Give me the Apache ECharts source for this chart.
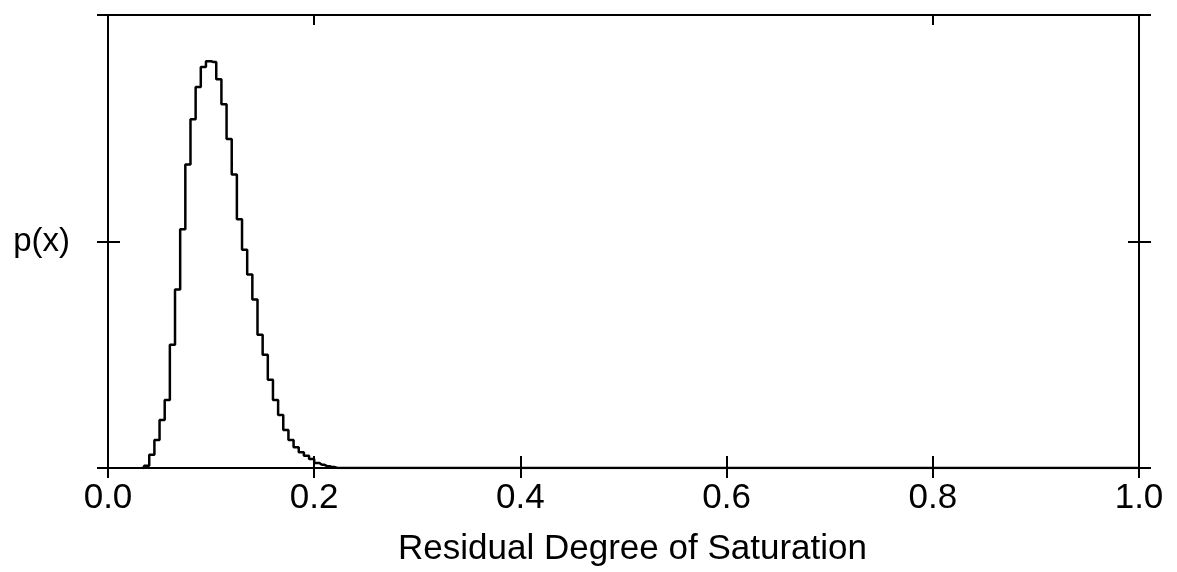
<!DOCTYPE html>
<html>
<head>
<meta charset="utf-8">
<script src="https://cdn.jsdelivr.net/npm/echarts@6/dist/echarts.min.js"></script>
<style>
  html, body { margin: 0; padding: 0; background: #fff; }
  #chart { width: 1177px; height: 572px; }
</style>
</head>
<body>
<div id="chart"></div>
<script>
// Histogram of residual degree of saturation: bin centres and densities
const binCenters = [
  0.0325, 0.0375, 0.0425, 0.0475, 0.0525, 0.0575, 0.0625, 0.0675, 0.0725, 0.0775,
  0.0825, 0.0875, 0.0925, 0.0975, 0.1025, 0.1075, 0.1125, 0.1175, 0.1225, 0.1275,
  0.1325, 0.1375, 0.1425, 0.1475, 0.1525, 0.1575, 0.1625, 0.1675, 0.1725, 0.1775,
  0.1825, 0.1875, 0.1925, 0.1975, 0.2025, 0.2075, 0.2125, 0.2175, 0.2225, 1.0
];
const density = [
  0.000, 0.005, 0.029, 0.062, 0.106, 0.150, 0.272, 0.394, 0.527, 0.670,
  0.770, 0.841, 0.885, 0.898, 0.896, 0.858, 0.803, 0.726, 0.648, 0.549,
  0.482, 0.427, 0.372, 0.294, 0.250, 0.195, 0.150, 0.117, 0.084, 0.062,
  0.046, 0.035, 0.027, 0.020, 0.011, 0.007, 0.004, 0.002, 0.000, 0.000
];
const xTicks = [0.0, 0.2, 0.4, 0.6, 0.8, 1.0];
const topTicks = [0.2, 0.8];
const xTitle = 'Residual Degree of Saturation';
const yTitle = 'p(x)';

const FONT = '"Liberation Sans", Arial, Helvetica, sans-serif';
const INK = '#000';
const lineStyle = { color: INK, width: 2 };

function xAxisBase(extra) {
  return Object.assign({
    type: 'value', min: 0, max: 1, interval: 0.2,
    splitLine: { show: false },
    axisLine: { show: true, onZero: false, lineStyle: lineStyle },
    axisLabel: { show: false }
  }, extra);
}
function yAxisBase(extra) {
  return Object.assign({
    type: 'value', min: 0, max: 1, interval: 0.5,
    splitLine: { show: false },
    axisLine: { show: true, onZero: false, lineStyle: lineStyle },
    axisLabel: { show: false }
  }, extra);
}

const chart = echarts.init(document.getElementById('chart'), null, { renderer: 'canvas' });
chart.setOption({
  backgroundColor: '#fff',
  animation: false,
  grid: { left: 108, right: 38, top: 15, bottom: 104 },
  xAxis: [
    xAxisBase({
      position: 'bottom',
      axisTick: { show: true, inside: false, length: 10, lineStyle: lineStyle },
      axisLabel: {
        show: true, fontSize: 35, fontFamily: FONT, color: INK, margin: 13,
        customValues: xTicks,
        formatter: v => v.toFixed(1)
      },
      name: xTitle, nameLocation: 'middle', nameGap: 64,
      nameTextStyle: { fontSize: 35, fontFamily: FONT, color: INK, padding: [0, 0, 0, 18] }
    }),
    xAxisBase({
      position: 'bottom',
      axisTick: { show: true, inside: true, length: 12, lineStyle: lineStyle }
    }),
    xAxisBase({
      position: 'top',
      axisTick: { show: true, inside: true, length: 10, customValues: topTicks, lineStyle: lineStyle }
    })
  ],
  yAxis: [
    yAxisBase({
      position: 'left',
      axisTick: { show: true, inside: false, length: 11, lineStyle: lineStyle },
      name: yTitle, nameLocation: 'middle', nameRotate: 0, nameGap: 38,
      nameTextStyle: { fontSize: 33, fontFamily: FONT, color: INK }
    }),
    yAxisBase({
      position: 'left',
      axisTick: { show: true, inside: true, length: 12, lineStyle: lineStyle }
    }),
    yAxisBase({
      position: 'right',
      axisTick: { show: true, inside: false, length: 12, lineStyle: lineStyle }
    }),
    yAxisBase({
      position: 'right',
      axisTick: { show: true, inside: true, length: 11, lineStyle: lineStyle }
    })
  ],
  series: [{
    type: 'line',
    xAxisIndex: 0,
    yAxisIndex: 0,
    step: 'middle',
    showSymbol: false,
    symbol: 'none',
    lineStyle: { color: INK, width: 2.5 },
    data: binCenters.map((x, i) => [x, density[i]])
  }]
});
</script>
</body>
</html>
